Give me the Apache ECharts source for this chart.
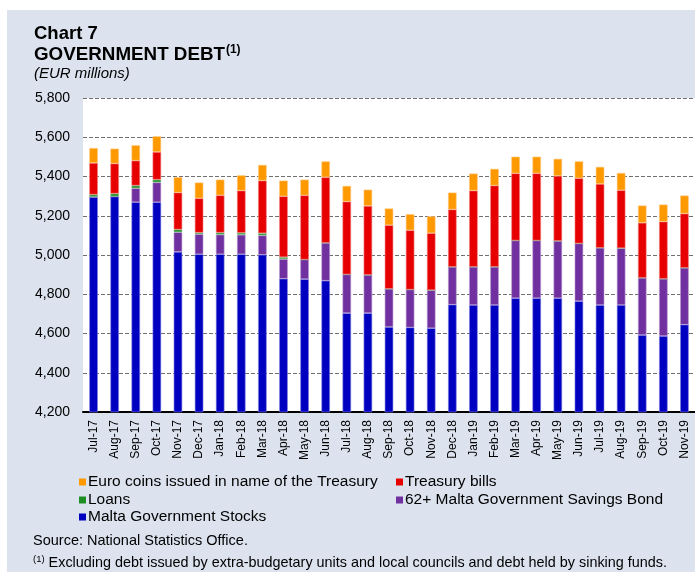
<!DOCTYPE html>
<html>
<head>
<meta charset="utf-8">
<script src="https://cdn.jsdelivr.net/npm/echarts@6/dist/echarts.min.js"></script>
<style>html,body{margin:0;padding:0;background:#fff}#c{width:695px;height:572px}</style>
</head>
<body>
<div id="c"></div>
<script>
const categories = ['Jul-17','Aug-17','Sep-17','Oct-17','Nov-17','Dec-17','Jan-18','Feb-18','Mar-18','Apr-18','May-18','Jun-18','Jul-18','Aug-18','Sep-18','Oct-18','Nov-18','Dec-18','Jan-19','Feb-19','Mar-19','Apr-19','May-19','Jun-19','Jul-19','Aug-19','Sep-19','Oct-19','Nov-19'];
const stocks = [5296,5298,5269,5269,5016,5004,5004,5004,5001,4879,4877,4869,4704,4704,4633,4631,4627,4747,4745,4745,4780,4780,4780,4765,4745,4745,4592,4587,4645];
const savingsBond = [0,0,71,101,100,102,100,99,99,100,100,193,197,195,195,193,194,193,195,195,294,294,292,294,292,290,292,292,290];
const loans = [12,15,14,14,14,8,10,10,11,10,0,0,0,0,0,0,0,0,0,0,0,0,0,0,0,0,0,0,0];
const tbills = [161,153,127,141,188,175,190,215,268,310,327,334,371,351,324,302,290,292,388,414,342,342,331,332,325,295,280,291,276];
const coins = [76,76,78,80,78,80,80,78,80,80,80,81,80,83,85,82,86,86,87,85,85,85,87,86,87,88,88,87,92];
const yTicks = {min: 4200, max: 5800, interval: 200};

const names = {
  coins: 'Euro coins issued in name of the Treasury',
  tbills: 'Treasury bills',
  loans: 'Loans',
  bond: '62+ Malta Government Savings Bond',
  stocks: 'Malta Government Stocks'
};
const colors = {coins:'#ff9900', tbills:'#e60000', loans:'#1f8f24', bond:'#7030a0', stocks:'#0000c0'};
const borders = {coins:'#ffc780', tbills:'#f48080', loans:'#8fc792', bond:'#b898d0', stocks:'#8080e0'};
const FF = '"Liberation Sans", Arial, sans-serif';

function bar(key, data) {
  return {
    name: names[key], type: 'bar', stack: 'debt', data: data,
    barWidth: 8.5,
    itemStyle: {color: colors[key], borderColor: borders[key], borderWidth: 0.6},
    emphasis: {disabled: true}
  };
}
function leg(key, left, top) {
  return {
    data: [names[key]], left: left, top: top, padding: 0,
    itemWidth: 7, itemHeight: 7, icon: 'rect',
    itemStyle: {borderWidth: 0},
    selectedMode: false,
    textStyle: {fontSize: 15.5, fontFamily: FF, color: '#000', padding: [0,0,0,-3]}
  };
}

const chart = echarts.init(document.getElementById('c'));
chart.setOption({
  backgroundColor: '#dce3ef',
  animation: false,
  textStyle: {fontFamily: FF},
  graphic: [
    {type:'rect', shape:{x:0,y:0,width:695,height:10}, style:{fill:'#fff'}, silent:true},
    {type:'rect', shape:{x:0,y:0,width:7,height:572}, style:{fill:'#fff'}, silent:true},
    {type:'text', x:34, y:34, style:{text:'Chart 7', font:'bold 18.5px ' + FF, fill:'#000', verticalAlign:'middle'}},
    {type:'text', x:34, y:54, style:{
      text:'{a|GOVERNMENT DEBT}{s|(1)}', verticalAlign:'middle', fill:'#000',
      rich:{a:{fontSize:18.8, fontWeight:'bold', fontFamily:FF, lineHeight:21, verticalAlign:'bottom'},
            s:{fontSize:12, fontWeight:'bold', fontFamily:FF, lineHeight:21, verticalAlign:'top', padding:[0,0,0,1]}}}},
    {type:'text', x:34, y:74, style:{text:'(EUR millions)', font:'italic 15px ' + FF, fill:'#000', verticalAlign:'middle'}},
    {type:'text', x:33, y:541, style:{text:'Source: National Statistics Office.', font:'14.5px ' + FF, fill:'#000', verticalAlign:'middle'}},
    {type:'text', x:33, y:562, style:{
      text:'{s|(1)}{t| Excluding debt issued by extra-budgetary units and local councils and debt held by sinking funds.}',
      verticalAlign:'middle', fill:'#000',
      rich:{s:{fontSize:9.5, fontFamily:FF, lineHeight:16, verticalAlign:'top'},
            t:{fontSize:14.4, fontFamily:FF, lineHeight:16, verticalAlign:'bottom'}}}}
  ],
  legend: [
    leg('coins', 79, 474),
    leg('tbills', 396, 474),
    leg('loans', 79, 492),
    leg('bond', 396, 492),
    leg('stocks', 79, 509)
  ],
  grid: {left: 83, top: 98, width: 618, height: 314, show: true, backgroundColor: '#fff', borderWidth: 0, containLabel: false},
  xAxis: {
    type: 'category', data: categories,
    axisLine: {lineStyle: {color: '#000', width: 2}},
    axisTick: {show: false},
    axisLabel: {rotate: 90, interval: 0, fontSize: 12, color: '#000', margin: 8, fontFamily: FF}
  },
  yAxis: {
    type: 'value', min: yTicks.min, max: yTicks.max, interval: yTicks.interval,
    axisLine: {show: false}, axisTick: {show: false},
    axisLabel: {fontSize: 14, color: '#000', margin: 13, fontFamily: FF,
      formatter: v => v.toLocaleString('en-US')},
    splitLine: {lineStyle: {color: '#707070', type: [4, 2], width: 1}}
  },
  series: [
    bar('stocks', stocks),
    bar('bond', savingsBond),
    bar('loans', loans),
    bar('tbills', tbills),
    bar('coins', coins)
  ]
});
</script>
</body>
</html>
